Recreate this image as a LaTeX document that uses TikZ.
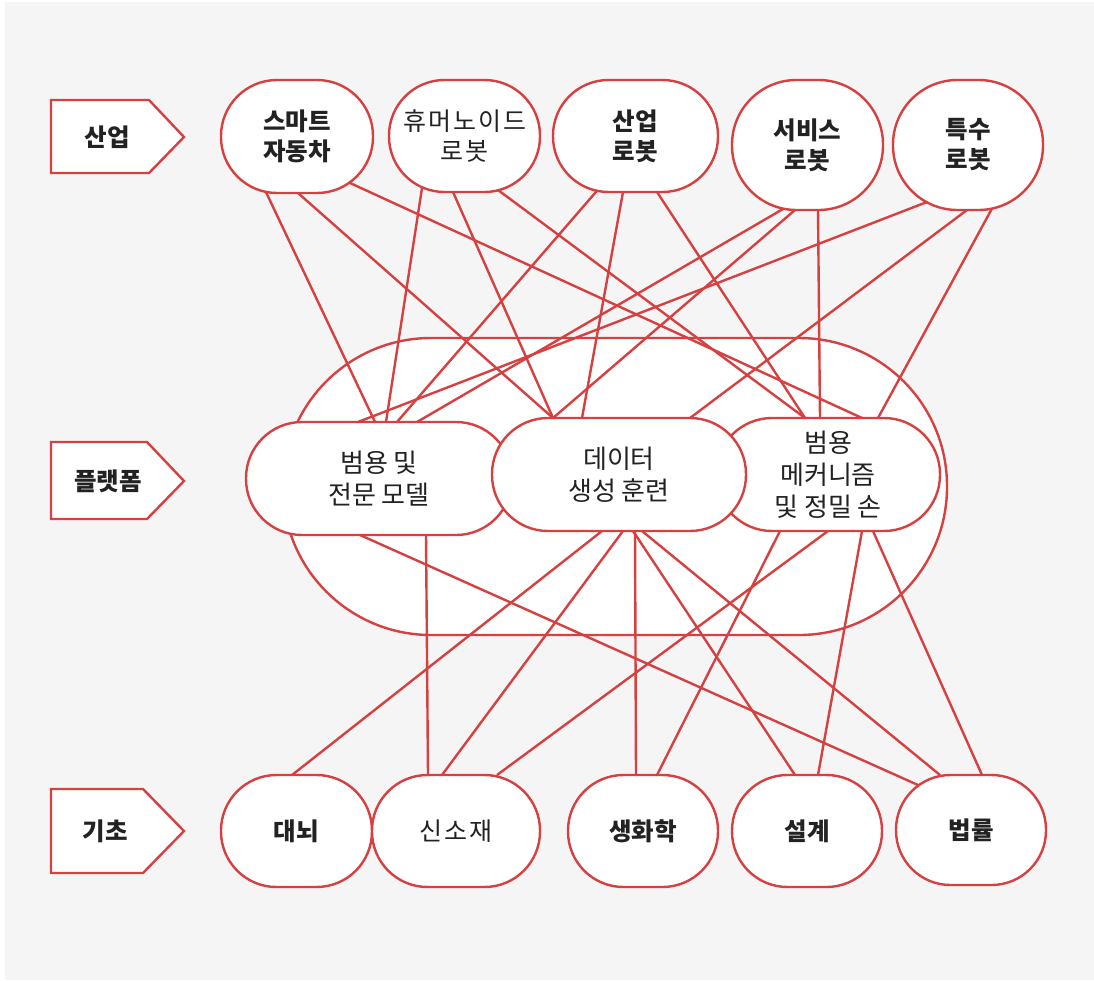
\documentclass[tikz,border=0pt]{standalone}
\usepackage{fontspec}
\setmainfont{Noto Sans CJK KR}
\usetikzlibrary{calc}
\definecolor{edge}{RGB}{214,64,64}
\definecolor{bgc}{RGB}{245,245,245}
\definecolor{ink}{RGB}{34,34,34}
\pgfdeclarelayer{back}
\pgfdeclarelayer{wires}
\pgfsetlayers{back,wires,main}
\begin{document}
\begin{tikzpicture}[x=1pt,y=-1pt,
  bub/.style n args={3}{draw=edge, line width=2.4pt, fill=white, rounded corners=#3,
    minimum width=#1, minimum height=#2, inner sep=0pt, align=center, text=ink,
    font=\fontsize{25}{30}\selectfont},
  bold/.style={font=\fontsize{24.5}{30}\selectfont\bfseries},
  spaced/.style={font=\fontsize{25}{30}\selectfont\addfontfeatures{LetterSpace=8}},
  plattext/.style={font=\fontsize{26}{32}\selectfont},
  conn/.style={draw=edge, line width=2.4pt},
  tag/.style={draw=edge, line width=2.4pt, fill=white, line join=miter},
  tagtext/.style={text=ink, font=\fontsize{24.5}{30}\selectfont\bfseries, inner sep=0pt},
]
\useasboundingbox (0,0) rectangle (1094,980);
\begin{pgfonlayer}{back}
\fill[white] (0,0) rectangle (1094,980);
\fill[bgc] (5,2) rectangle (1094,980);
\node[draw=edge, line width=2.4pt, fill=white, rounded corners=148pt,
  minimum width=664pt, minimum height=297pt, inner sep=0pt] (plat) at (615,486.5) {};
\end{pgfonlayer}

% left tags
\draw[tag] (51,100) -- (149,100) -- (184,137) -- (149,173) -- (51,173) -- cycle;
\node[tagtext] (tind) at (107,137) {산업};
\draw[tag] (51,442) -- (147,442) -- (184,481) -- (147,519) -- (51,519) -- cycle;
\node[tagtext] (tplat) at (108,481) {플랫폼};
\draw[tag] (51,789) -- (143,789) -- (184,831) -- (143,873) -- (51,873) -- cycle;
\node[tagtext] (tbase) at (105,831) {기초};

% top row
\node[bub={152pt}{113pt}{56pt}, bold] (smart) at (297,136.5) {스마트\\자동차};
\node[bub={151pt}{112pt}{55.5pt}, spaced] (human) at (464.5,136) {휴머노이드\\로봇};
\node[bub={165pt}{112pt}{55.5pt}, bold] (indus) at (635.5,136) {산업\\로봇};
\node[bub={151pt}{130pt}{64.5pt}, bold] (serv) at (807.5,145) {서비스\\로봇};
\node[bub={150pt}{130pt}{64.5pt}, bold] (spec) at (968,145) {특수\\로봇};

% platform row
\node[bub={266pt}{113pt}{56pt}, plattext] (model) at (379,478.5) {범용 및\\전문 모델};
\node[bub={224pt}{113pt}{56pt}, plattext] (mech) at (828,474.5) {범용\\메커니즘\\및 정밀 손};
\node[bub={254pt}{113pt}{56pt}, plattext] (data) at (619,474.5) {데이터\\생성 훈련};

% bottom row
\node[bub={151pt}{112pt}{55.5pt}, bold] (brain) at (296.5,831) {대뇌};
\node[bub={168pt}{112pt}{55.5pt}, spaced] (newmat) at (456,831) {신소재};
\node[bub={150pt}{112pt}{55.5pt}, bold] (biochem) at (643,831) {생화학};
\node[bub={150pt}{112pt}{55.5pt}, bold] (design) at (807,831) {설계};
\node[bub={150pt}{110pt}{54.5pt}, bold] (law) at (971,830) {법률};

\begin{pgfonlayer}{wires}
% top -> platform
\draw[conn] ($(smart)+(-32,53.5)$) -- ($(model)+(-4,-56.5)$);
\draw[conn] ($(smart)+(1,56.5)$) -- ($(data)+(-66,-56.5)$);
\draw[conn] ($(smart)+(53,46.5)$) -- ($(mech)+(34,-56.5)$);
\draw[conn] ($(human)+(-42.5,52)$) -- ($(model)+(7,-56.5)$);
\draw[conn] ($(human)+(-11.5,56)$) -- ($(data)+(-66,-56.5)$);
\draw[conn] ($(human)+(33.5,54)$) -- ($(mech)+(-23,-56.5)$);
\draw[conn] ($(indus)+(-38.5,54.7)$) -- ($(model)+(18,-56.5)$);
\draw[conn] ($(indus)+(-12.5,56)$) -- ($(data)+(-37,-56.5)$);
\draw[conn] ($(indus)+(21.5,56)$) -- ($(mech)+(-23,-56.5)$);
\draw[conn] ($(serv)+(-24.5,64)$) -- ($(model)+(38,-56.5)$);
\draw[conn] ($(serv)+(-12.5,65)$) -- ($(data)+(-66,-56.5)$);
\draw[conn] ($(serv)+(10.5,65)$) -- ($(mech)+(-8,-56.5)$);
\draw[conn] ($(spec)+(-41,57)$) -- ($(model)+(-21,-56.5)$);
\draw[conn] ($(spec)+(-1,65)$) -- ($(data)+(71,-56.5)$);
\draw[conn] ($(spec)+(24,63.5)$) -- ($(mech)+(50,-56.5)$);
% platform -> bottom
\draw[conn] ($(model)+(-19,56.5)$) -- ($(law)+(-53,-45)$);
\draw[conn] ($(model)+(47,56.5)$) -- ($(newmat)+(-28,-56)$);
\draw[conn] ($(data)+(-17,56.5)$) -- ($(brain)+(-4.5,-56)$);
\draw[conn] ($(data)+(4,56.5)$) -- ($(newmat)+(-14,-56)$);
\draw[conn] ($(data)+(16,56.5)$) -- ($(biochem)+(-7,-56)$);
\draw[conn] ($(data)+(14,56.5)$) -- ($(design)+(-12,-56)$);
\draw[conn] ($(data)+(23,56.5)$) -- ($(law)+(-31,-55)$);
\draw[conn] ($(mech)+(0,56.5)$) -- ($(newmat)+(41,-56)$);
\draw[conn] ($(mech)+(-48,56.5)$) -- ($(biochem)+(14,-56)$);
\draw[conn] ($(mech)+(34,56.5)$) -- ($(design)+(11,-56)$);
\draw[conn] ($(mech)+(45,56.5)$) -- ($(law)+(11,-55)$);
\end{pgfonlayer}
\end{tikzpicture}
\end{document}
